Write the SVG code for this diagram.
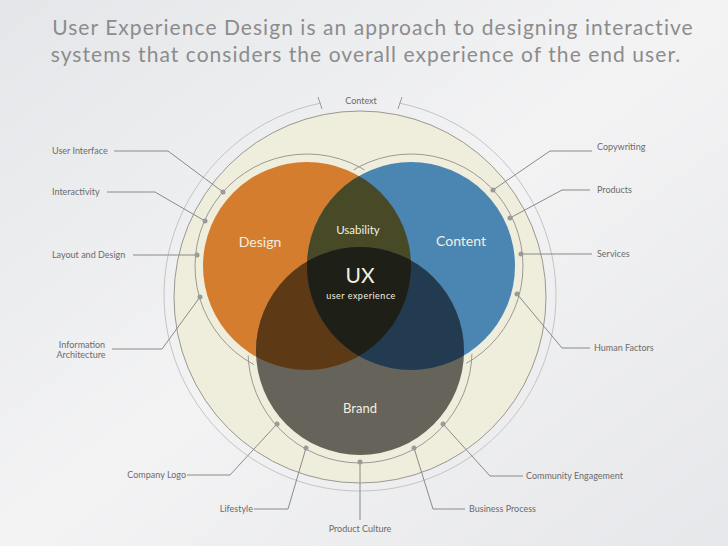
<svg xmlns="http://www.w3.org/2000/svg" width="728" height="546" viewBox="0 0 728 546">
<defs>
<linearGradient id="bg" x1="0" y1="0" x2="1" y2="1"><stop offset="0" stop-color="#e4e6e9"/><stop offset="0.5" stop-color="#f3f3f4"/><stop offset="1" stop-color="#e6e7ea"/></linearGradient>
<clipPath id="cD"><circle cx="307" cy="266" r="104"/></clipPath>
<clipPath id="cC"><circle cx="411" cy="266" r="104"/></clipPath>
<clipPath id="cB"><circle cx="360" cy="351" r="104"/></clipPath>
</defs>
<style>
.t{font-family:"Lato","Liberation Sans",sans-serif;fill:#6b6b6b;font-size:9px}
.ti{font-family:"Lato","Liberation Sans",sans-serif;fill:#8c8c8c;font-size:21px;letter-spacing:1.05px}
.w{font-family:"Lato","Liberation Sans",sans-serif;fill:#f3efe0;text-anchor:middle}
.ln{fill:none;stroke:#8a8a8a;stroke-width:1}
.dot{fill:#9a9a9a}
.ring{fill:none;stroke:#9a9a92;stroke-width:1}
</style>
<rect width="728" height="546" fill="url(#bg)"/>
<text class="ti" x="373" y="35" text-anchor="middle">User Experience Design is an approach to designing interactive</text>
<text class="ti" x="366" y="62" text-anchor="middle">systems that considers the overall experience of the end user.</text>
<g id="context">
<path d="M321,103 A196,196 0 1 0 399,103" fill="none" stroke="#c4c4c4" stroke-width="1"/>
<line x1="318" y1="97" x2="322" y2="109" stroke="#999"/>
<line x1="402" y1="97" x2="398" y2="109" stroke="#999"/>
<circle cx="360" cy="297" r="186" fill="#efeddb" stroke="#9a9890" stroke-width="1"/>
<text class="t" x="361" y="104" text-anchor="middle">Context</text>
</g>
<g id="rings">
<circle class="ring" cx="307" cy="266" r="112"/>
<circle class="ring" cx="411" cy="266" r="112"/>
<circle class="ring" cx="360" cy="351" r="112"/>
<circle cx="307" cy="266" r="107" fill="#efeddb"/>
<circle cx="411" cy="266" r="107" fill="#efeddb"/>
<circle cx="360" cy="351" r="107" fill="#efeddb"/>
</g>
<g id="design"><circle cx="307" cy="266" r="104" fill="#d57d2f"/></g>
<g id="content"><circle cx="411" cy="266" r="104" fill="#4b86b3"/></g>
<g id="brand"><circle cx="360" cy="351" r="104" fill="#65635a"/></g>
<g id="overlaps">
<g clip-path="url(#cD)"><circle cx="411" cy="266" r="104" fill="#474927"/><circle cx="360" cy="351" r="104" fill="#5d3916"/></g>
<g clip-path="url(#cC)"><circle cx="360" cy="351" r="104" fill="#223b51"/></g>
<g clip-path="url(#cD)"><g clip-path="url(#cC)"><circle cx="360" cy="351" r="104" fill="#1e1f17"/></g></g>
</g>
<g id="labels">
<text class="w" x="260" y="247" font-size="14">Design</text>
<text class="w" x="461" y="246" font-size="14">Content</text>
<text class="w" x="358" y="234" font-size="11.5">Usability</text>
<text class="w" x="360" y="413" font-size="13">Brand</text>
<text class="w" x="360" y="283" font-size="21">UX</text>
<text class="w" x="361" y="299" font-size="9" letter-spacing="0.5">user experience</text>
</g>
<g id="connectors">
<polyline class="ln" points="114,151 168,151 223,192"/>
<polyline class="ln" points="107,192 155,192 205,221"/>
<polyline class="ln" points="133,255 197,255"/>
<polyline class="ln" points="112,349 162,349 200,297"/>
<polyline class="ln" points="592,151 550,151 493,190"/>
<polyline class="ln" points="590,190 562,190 510,218"/>
<polyline class="ln" points="592,254 521,254"/>
<polyline class="ln" points="590,348 562,348 517,294"/>
<polyline class="ln" points="187,475 230,475 277,424"/>
<polyline class="ln" points="254,509 288,509 306,448"/>
<polyline class="ln" points="360,462 360,520"/>
<polyline class="ln" points="465,509 433,509 414,448"/>
<polyline class="ln" points="523,476 490,476 443,424"/>
<g class="dot">
<circle cx="223" cy="192" r="2.5"/><circle cx="205" cy="221" r="2.5"/><circle cx="197" cy="255" r="2.5"/><circle cx="200" cy="297" r="2.5"/>
<circle cx="493" cy="190" r="2.5"/><circle cx="510" cy="218" r="2.5"/><circle cx="521" cy="254" r="2.5"/><circle cx="517" cy="294" r="2.5"/>
<circle cx="277" cy="424" r="2.5"/><circle cx="306" cy="448" r="2.5"/><circle cx="360" cy="462" r="2.5"/><circle cx="414" cy="448" r="2.5"/><circle cx="443" cy="424" r="2.5"/>
</g>
</g>
<g id="items">
<text class="t" x="52" y="154">User Interface</text>
<text class="t" x="52" y="195">Interactivity</text>
<text class="t" x="52" y="258">Layout and Design</text>
<text class="t" x="82" y="348" text-anchor="middle">Information</text>
<text class="t" x="81" y="358" text-anchor="middle">Architecture</text>
<text class="t" x="597" y="150">Copywriting</text>
<text class="t" x="597" y="193">Products</text>
<text class="t" x="597" y="257">Services</text>
<text class="t" x="594" y="351">Human Factors</text>
<text class="t" x="186" y="478" text-anchor="end">Company Logo</text>
<text class="t" x="253" y="512" text-anchor="end">Lifestyle</text>
<text class="t" x="360" y="532" text-anchor="middle">Product Culture</text>
<text class="t" x="469" y="512">Business Process</text>
<text class="t" x="526" y="479">Community Engagement</text>
</g>
</svg>
